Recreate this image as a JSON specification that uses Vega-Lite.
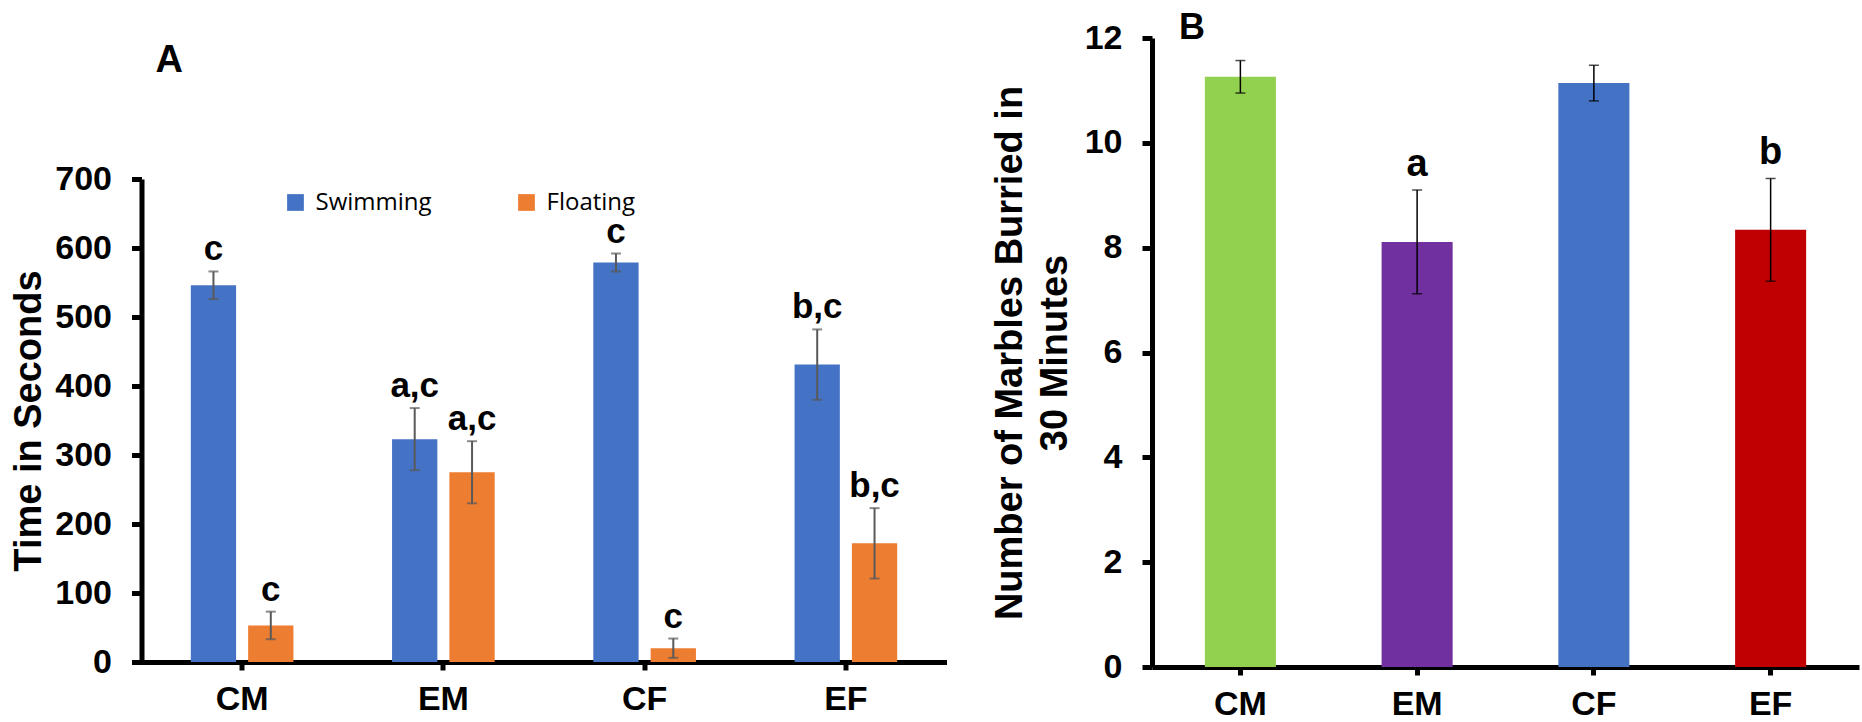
{
  "$schema": "https://vega.github.io/schema/vega-lite/v6.json",
  "background": "white",
  "padding": {"left": 10.5, "top": 9, "right": 0, "bottom": 0},
  "spacing": 44.5,
  "resolve": {"scale": {"color": "independent", "x": "independent", "y": "independent"}},
  "config": {
    "view": {"stroke": null},
    "font": "Liberation Sans",
    "axis": {"grid": false, "domainColor": "black", "tickColor": "black", "labelColor": "black", "titleColor": "black", "labelFont": "Liberation Sans", "titleFont": "Liberation Sans", "labelFontWeight": "bold", "titleFontWeight": "bold"}
  },
  "datasets": {
    "a": [
      {"group": "CM", "series": "Swimming", "mean": 546, "lo": 526, "hi": 566, "letter": "c"},
      {"group": "CM", "series": "Floating", "mean": 53, "lo": 33, "hi": 73, "letter": "c"},
      {"group": "EM", "series": "Swimming", "mean": 323, "lo": 278, "hi": 368, "letter": "a,c"},
      {"group": "EM", "series": "Floating", "mean": 275, "lo": 230, "hi": 320, "letter": "a,c"},
      {"group": "CF", "series": "Swimming", "mean": 579, "lo": 566, "hi": 592, "letter": "c"},
      {"group": "CF", "series": "Floating", "mean": 20, "lo": 6, "hi": 34, "letter": "c"},
      {"group": "EF", "series": "Swimming", "mean": 431, "lo": 380, "hi": 482, "letter": "b,c"},
      {"group": "EF", "series": "Floating", "mean": 172, "lo": 121, "hi": 223, "letter": "b,c"}
    ],
    "b": [
      {"group": "CM", "mean": 11.26, "lo": 10.95, "hi": 11.57, "letter": ""},
      {"group": "EM", "mean": 8.11, "lo": 7.12, "hi": 9.10, "letter": "a"},
      {"group": "CF", "mean": 11.14, "lo": 10.80, "hi": 11.48, "letter": ""},
      {"group": "EF", "mean": 8.34, "lo": 7.36, "hi": 9.32, "letter": "b"}
    ]
  },
  "hconcat": [
    {
      "width": 805,
      "height": 624,
      "title": {"text": "A", "anchor": "start", "frame": "group", "dx": 14, "offset": -72, "baseline": "alphabetic", "fontSize": 38, "fontWeight": "bold", "font": "Liberation Sans", "color": "black"},
      "data": {"name": "a"},
      "encoding": {
        "x": {"field": "group", "type": "nominal", "sort": ["CM", "EM", "CF", "EF"], "scale": {"paddingInner": 0.49, "paddingOuter": 0.245},
          "axis": {"title": null, "labelAngle": 0, "labelFontSize": 34, "labelPadding": 12, "tickSize": 8, "tickWidth": 5, "domainWidth": 5}},
        "xOffset": {"field": "series", "type": "nominal", "sort": ["Swimming", "Floating"], "scale": {"paddingInner": 0.21}}
      },
      "layer": [
        {
          "mark": {"type": "bar"},
          "encoding": {
            "y": {"field": "mean", "type": "quantitative", "title": "Time in Seconds", "scale": {"domain": [0, 700], "range": [624, 141], "nice": false},
              "axis": {"values": [0, 100, 200, 300, 400, 500, 600, 700], "labelFontSize": 34, "titleFontSize": 38, "tickSize": 10, "tickWidth": 5, "domainWidth": 5, "labelPadding": 20, "titlePadding": 6}},
            "color": {"field": "series", "type": "nominal", "sort": ["Swimming", "Floating"], "scale": {"domain": ["Swimming", "Floating"], "range": ["#4472C4", "#ED7D31"]},
              "legend": {"orient": "none", "legendX": 142, "legendY": 152.5, "direction": "horizontal", "title": null, "symbolType": "square", "symbolSize": 280, "symbolStrokeWidth": 0, "labelFont": "Open Sans", "labelFontSize": 24, "labelColor": "black", "labelOffset": 8, "columnPadding": 82, "padding": 0}}
          }
        },
        {
          "mark": {"type": "rule", "color": "#595959", "strokeWidth": 2},
          "encoding": {"y": {"field": "lo", "type": "quantitative", "title": "Time in Seconds"}, "y2": {"field": "hi"}}
        },
        {
          "mark": {"type": "tick", "color": "#595959", "thickness": 2, "size": 10, "orient": "horizontal"},
          "encoding": {"y": {"field": "lo", "type": "quantitative", "title": "Time in Seconds"}}
        },
        {
          "mark": {"type": "tick", "color": "#595959", "thickness": 2, "size": 10, "orient": "horizontal"},
          "encoding": {"y": {"field": "hi", "type": "quantitative", "title": "Time in Seconds"}}
        },
        {
          "mark": {"type": "text", "baseline": "alphabetic", "dy": -11, "fontSize": 35, "fontWeight": "bold", "font": "Liberation Sans", "color": "black"},
          "encoding": {"y": {"field": "hi", "type": "quantitative", "title": "Time in Seconds"}, "text": {"field": "letter"}}
        }
      ]
    },
    {
      "width": 707,
      "height": 629,
      "title": {"text": "B", "anchor": "start", "frame": "group", "dx": 27, "offset": -58, "baseline": "alphabetic", "fontSize": 36, "fontWeight": "bold", "font": "Liberation Sans", "color": "black"},
      "data": {"name": "b"},
      "encoding": {
        "x": {"field": "group", "type": "nominal", "sort": ["CM", "EM", "CF", "EF"], "scale": {"paddingInner": 0.598, "paddingOuter": 0.299},
          "axis": {"title": null, "labelAngle": 0, "labelFontSize": 34, "labelPadding": 12, "tickSize": 8, "tickWidth": 5, "domainWidth": 5}}
      },
      "layer": [
        {
          "mark": {"type": "bar"},
          "encoding": {
            "y": {"field": "mean", "type": "quantitative", "title": ["Number of Marbles Burried in", "30 Minutes"], "scale": {"domain": [0, 12], "nice": false},
              "axis": {"values": [0, 2, 4, 6, 8, 10, 12], "labelFontSize": 34, "titleFontSize": 38, "titleLineHeight": 45, "tickSize": 10, "tickWidth": 5, "domainWidth": 5, "labelPadding": 20, "titlePadding": 10}},
            "color": {"field": "group", "type": "nominal", "scale": {"domain": ["CM", "EM", "CF", "EF"], "range": ["#92D050", "#7030A0", "#4472C4", "#C00000"]}, "legend": null}
          }
        },
        {
          "mark": {"type": "rule", "color": "black", "strokeWidth": 1.5},
          "encoding": {"y": {"field": "lo", "type": "quantitative", "title": ["Number of Marbles Burried in", "30 Minutes"]}, "y2": {"field": "hi"}}
        },
        {
          "mark": {"type": "tick", "color": "black", "thickness": 1.5, "size": 10, "orient": "horizontal"},
          "encoding": {"y": {"field": "lo", "type": "quantitative", "title": ["Number of Marbles Burried in", "30 Minutes"]}}
        },
        {
          "mark": {"type": "tick", "color": "black", "thickness": 1.5, "size": 10, "orient": "horizontal"},
          "encoding": {"y": {"field": "hi", "type": "quantitative", "title": ["Number of Marbles Burried in", "30 Minutes"]}}
        },
        {
          "mark": {"type": "text", "baseline": "alphabetic", "dy": -14, "fontSize": 38, "fontWeight": "bold", "font": "Liberation Sans", "color": "black"},
          "encoding": {"y": {"field": "hi", "type": "quantitative", "title": ["Number of Marbles Burried in", "30 Minutes"]}, "text": {"field": "letter"}}
        }
      ]
    }
  ]
}
